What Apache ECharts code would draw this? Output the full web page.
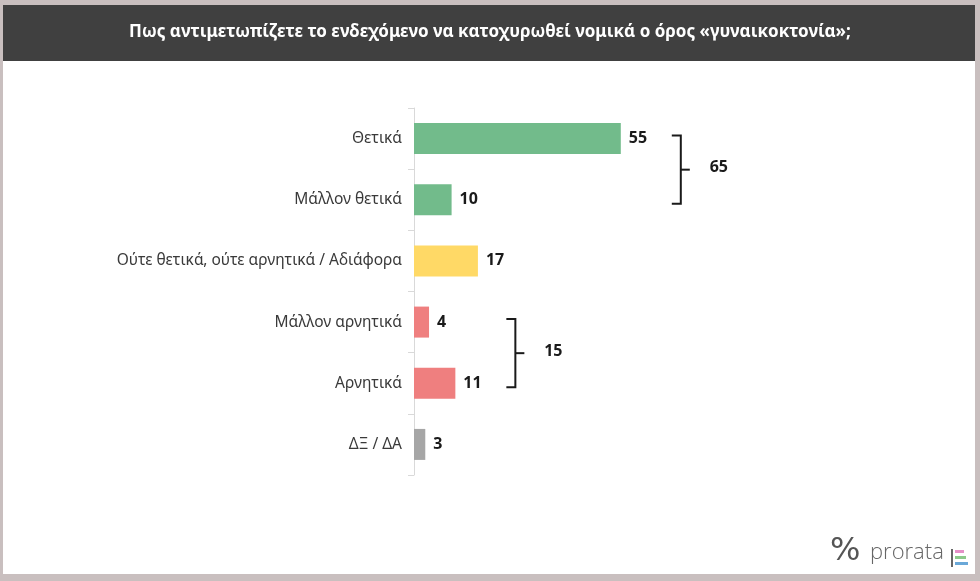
<!DOCTYPE html>
<html>
<head>
<meta charset="utf-8">
<script src="https://cdn.jsdelivr.net/npm/echarts@6/dist/echarts.min.js"></script>
<style>
  html, body { margin: 0; padding: 0; background: #c9bfbf; }
  #chart { width: 980px; height: 581px; }
</style>
</head>
<body>
<div id="chart"></div>
<script>
const title = 'Πως αντιμετωπίζετε το ενδεχόμενο να κατοχυρωθεί νομικά ο όρος «γυναικοκτονία»;';
const categories = ['Θετικά', 'Μάλλον θετικά', 'Ούτε θετικά, ούτε αρνητικά / Αδιάφορα', 'Μάλλον αρνητικά', 'Αρνητικά', 'ΔΞ / ΔΑ'];
const values = [55, 10, 17, 4, 11, 3];
const barColors = ['#72bb8b', '#72bb8b', '#ffd966', '#ef7f7f', '#ef7f7f', '#a6a6a6'];
// groups: [first index, last index, total]
const groups = [[0, 1, 65], [3, 4, 15]];

const chart = echarts.init(document.getElementById('chart'));

function renderBracket(params, api) {
  const i0 = api.value(0), i1 = api.value(1), total = api.value(2);
  const maxVal = Math.max(...values.slice(i0, i1 + 1));
  const top = api.coord([0, categories[i0]]);
  const bottom = api.coord([0, categories[i1]]);
  const endX = api.coord([maxVal, categories[i0]])[0];
  const x = endX + 60;
  const y0 = top[1] - 3, y1 = bottom[1] + 4;
  const ym = (y0 + y1) / 2;
  const style = { stroke: '#1a1a1a', lineWidth: 2, fill: null };
  return {
    type: 'group',
    children: [
      { type: 'polyline', shape: { points: [[x - 9, y0], [x, y0], [x, y1], [x - 9, y1]] }, style },
      { type: 'line', shape: { x1: x, y1: ym, x2: x + 9, y2: ym }, style },
      {
        type: 'text',
        style: {
          text: String(total), x: x + 38, y: ym - 2,
          align: 'center', verticalAlign: 'middle',
          font: 'bold 16px "Noto Sans", sans-serif', fill: '#1a1a1a'
        }
      }
    ]
  };
}

chart.setOption({
  backgroundColor: '#c9bfbf',
  animation: false,
  graphic: [
    { type: 'rect', shape: { x: 3, y: 5, width: 972, height: 569 }, style: { fill: '#ffffff' }, z: -10 },
    { type: 'rect', shape: { x: 3, y: 5, width: 972, height: 56 }, style: { fill: '#404040' }, z: -9 },
    {
      type: 'text', left: 'center', top: 24,
      style: { text: title, font: 'bold 17px "Noto Sans", sans-serif', fill: '#ffffff' }
    },
    {
      type: 'text', left: 830, top: 536,
      style: { text: '%', font: '32px "DejaVu Sans", sans-serif', fill: '#555555' }
    },
    {
      type: 'text', left: 870, top: 542,
      style: { text: 'prorata', font: '300 22px "Open Sans", sans-serif', fill: '#666666' }
    },
    { type: 'rect', shape: { x: 951, y: 549, width: 2, height: 18 }, style: { fill: '#666666' } },
    { type: 'rect', shape: { x: 955, y: 550, width: 9, height: 3 }, style: { fill: '#e58fc7' } },
    { type: 'rect', shape: { x: 955, y: 556, width: 11, height: 3 }, style: { fill: '#8cc98a' } },
    { type: 'rect', shape: { x: 955, y: 562, width: 13, height: 3 }, style: { fill: '#6aa8d8' } }
  ],
  grid: { left: 414, right: 190, top: 108, height: 367 },
  xAxis: { type: 'value', min: 0, max: 100, show: false },
  yAxis: {
    type: 'category',
    data: categories,
    inverse: true,
    axisLine: { show: true, lineStyle: { color: '#d9d9d9', width: 1 } },
    axisTick: { show: true, length: 6, lineStyle: { color: '#d9d9d9' } },
    axisLabel: { color: '#3a3a3a', fontSize: 15.5, fontFamily: '"Noto Sans", sans-serif', margin: 12 },
    splitLine: { show: false }
  },
  series: [
    {
      type: 'bar',
      data: values.map((v, i) => ({ value: v, itemStyle: { color: barColors[i] } })),
      barWidth: 31,
      label: {
        show: true, position: 'right', distance: 8,
        color: '#1a1a1a', fontWeight: 'bold', fontSize: 16, fontFamily: '"Noto Sans", sans-serif'
      }
    },
    {
      type: 'custom',
      renderItem: renderBracket,
      data: groups,
      encode: { x: 2, y: 0 },
      silent: true,
      clip: false
    }
  ]
});
</script>
</body>
</html>
